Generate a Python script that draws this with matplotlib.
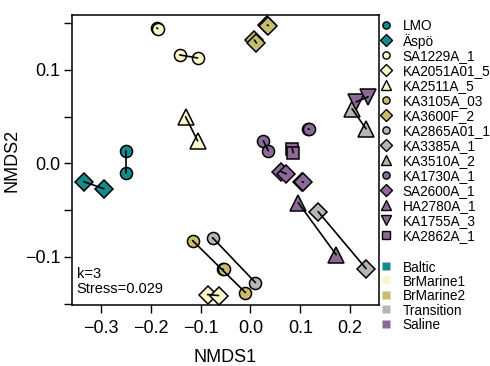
import matplotlib
matplotlib.use("Agg")
import matplotlib.pyplot as plt
from matplotlib.lines import Line2D

plt.rcParams['font.family'] = ['Liberation Sans', 'DejaVu Sans']

# ---------------- data ----------------
site_names = ["LMO", "Äspö", "SA1229A_1", "KA2051A01_5", "KA2511A_5",
              "KA3105A_03", "KA3600F_2", "KA2865A01_1", "KA3385A_1", "KA3510A_2",
              "KA1730A_1", "SA2600A_1", "HA2780A_1", "KA1755A_3", "KA2862A_1"]
site_groups = ["Baltic", "Baltic", "BrMarine1", "BrMarine1", "BrMarine1",
               "BrMarine2", "BrMarine2", "Transition", "Transition", "Transition",
               "Saline", "Saline", "Saline", "Saline", "Saline"]
# replicate pairs: points (0,1), (2,3), ... are joined by a segment
site_x = [
    [-0.250, -0.250],
    [-0.334, -0.294],
    [-0.188, -0.186, -0.142, -0.106],
    [-0.086, -0.064],
    [-0.130, -0.106],
    [-0.116, -0.010, -0.056, -0.054],
    [0.034, 0.036, 0.008, 0.012],
    [-0.076, 0.010],
    [0.136, 0.232],
    [0.204, 0.232],
    [0.026, 0.036, 0.116, 0.118],
    [0.062, 0.072, 0.104, 0.106],
    [0.096, 0.172],
    [0.212, 0.236],
    [0.084, 0.086],
]
site_y = [
    [0.0133, -0.0101],
    [-0.0197, -0.0272],
    [0.1446, 0.1440, 0.1158, 0.1126],
    [-0.1403, -0.1414],
    [0.0496, 0.0240],
    [-0.0827, -0.1382, -0.1131, -0.1135],
    [0.1478, 0.1472, 0.1318, 0.1286],
    [-0.0795, -0.1275],
    [-0.0518, -0.1126],
    [0.0582, 0.0368],
    [0.0240, 0.0133, 0.0368, 0.0362],
    [-0.0091, -0.0112, -0.0197, -0.0203],
    [-0.0422, -0.0977],
    [0.0656, 0.0710],
    [0.0155, 0.0112],
]
group_names = ["Baltic", "BrMarine1", "BrMarine2", "Transition", "Saline"]
x_ticks = [-0.3, -0.2, -0.1, 0.0, 0.1, 0.2]
y_ticks = [-0.15, -0.1, -0.05, 0.0, 0.05, 0.1, 0.15]
y_ticklabels = ["", "\u22120.1", "", "0.0", "", "0.1", ""]
stress_text = "k=3\nStress=0.029"

# ---------------- style ----------------
group_colors = {"Baltic": "#168A8C", "BrMarine1": "#FBF6CA",
                "BrMarine2": "#C8BD6C", "Transition": "#B5B5B5",
                "Saline": "#8C6A97"}
site_markers = ["o", "D", "o", "D", "^", "o", "D", "o", "D", "^",
                "o", "D", "^", "v", "s"]
msize = {"o": 8.7, "D": 9.2, "^": 11, "v": 11, "s": 8}
leg_msize = {"o": 5.2, "D": 5.8, "^": 7.2, "v": 7.2, "s": 5.2}

W, H = 490, 366
fig = plt.figure(figsize=(W / 100, H / 100), dpi=100)
ax = fig.add_axes([72/W, 1-305/H, (379-72)/W, (305-15)/H])

for name, grp, mk, xs, ys in zip(site_names, site_groups, site_markers, site_x, site_y):
    ax.plot(xs, ys, linestyle="none", marker=mk, ms=msize[mk],
            mfc=group_colors[grp], mec="black", mew=1.1, zorder=2)
    for i in range(0, len(xs) - 1, 2):
        ax.plot(xs[i:i+2], ys[i:i+2], color="black", lw=1.2,
                solid_capstyle="round", zorder=3)

ax.set_xlim(-0.358, 0.258)
ax.set_ylim(-0.1515, 0.1585)
ax.set_xticks(x_ticks)
ax.set_xticklabels([f"{v:.1f}".replace("-", "\u2212") for v in x_ticks])
ax.set_yticks(y_ticks)
ax.set_yticklabels(y_ticklabels)
ax.tick_params(direction="out", length=5.5, width=1, labelsize=13)
ax.tick_params(axis="x", pad=5)
ax.tick_params(axis="y", pad=3)
for sp in ax.spines.values():
    sp.set_linewidth(1.1)
ax.set_xlabel("NMDS1", fontsize=13, labelpad=9)
ax.set_ylabel("NMDS2", fontsize=13, labelpad=3)

ax.text(0.015, 0.032, stress_text, transform=ax.transAxes, fontsize=10.5,
        ha="left", va="bottom", linespacing=1.05)

# legend: sites (placed in figure pixel positions)
mk_x, txt_x = 386 / W, 402.5 / W
y0, step = 25, 15.0
for k, (name, grp, mk) in enumerate(zip(site_names, site_groups, site_markers)):
    yy = 1 - (y0 + k * step) / H
    fig.add_artist(Line2D([mk_x], [yy], transform=fig.transFigure,
                          linestyle="none", marker=mk, ms=leg_msize[mk],
                          mfc=group_colors[grp], mec="black", mew=1.0))
    fig.text(txt_x, yy, name, fontsize=9.8, ha="left", va="center_baseline")

# legend: groups
g0, gstep = 266, 14.4
for k, g in enumerate(group_names):
    yy = 1 - (g0 + k * gstep) / H
    fig.add_artist(Line2D([mk_x], [yy], transform=fig.transFigure,
                          linestyle="none", marker="s", ms=6.2,
                          mfc=group_colors[g], mec="none"))
    fig.text(txt_x, yy, g, fontsize=9.8, ha="left", va="center_baseline")

fig.savefig("out.png", dpi=100)
